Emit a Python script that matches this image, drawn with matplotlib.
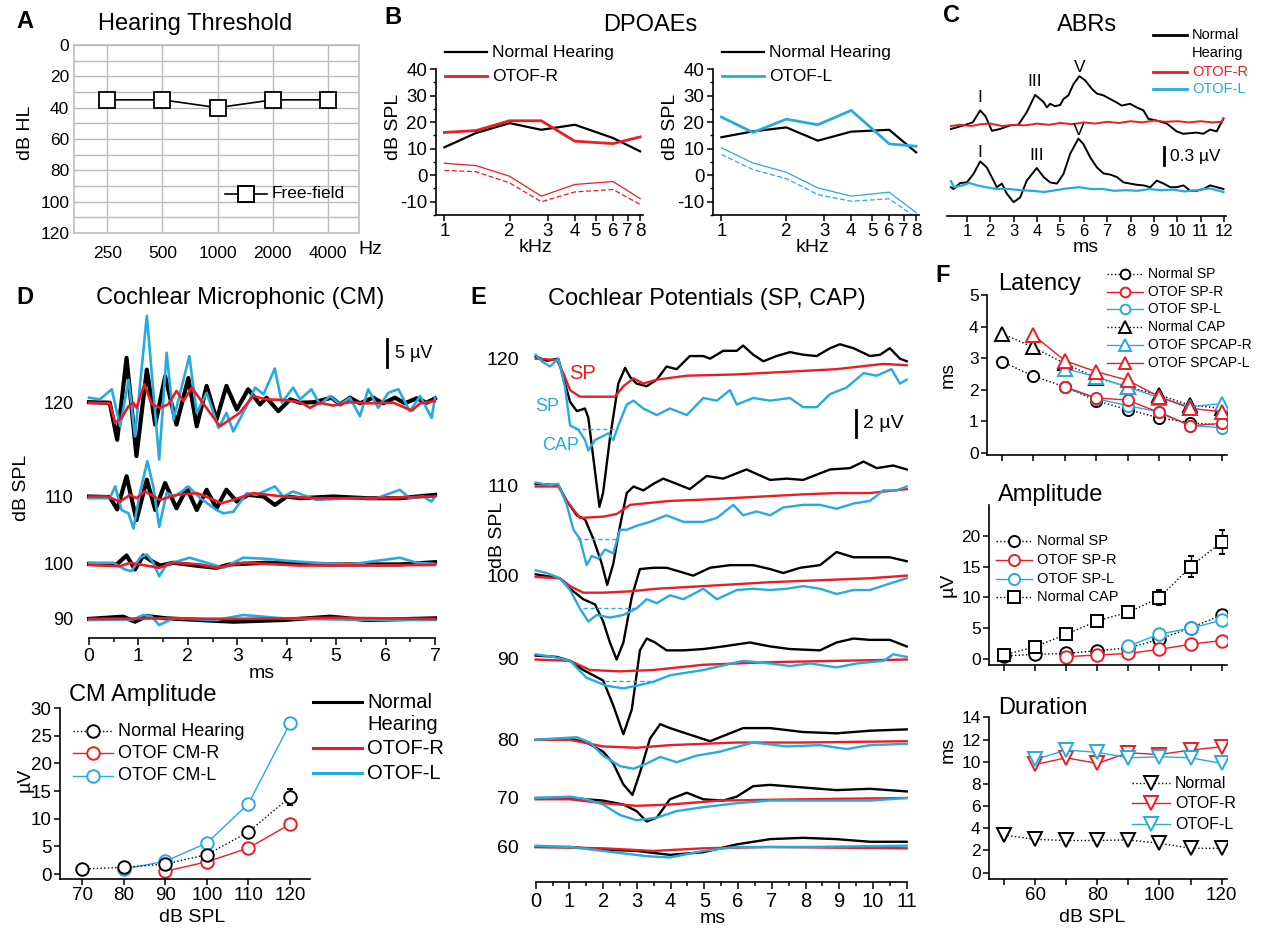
import matplotlib
matplotlib.use('Agg')
import matplotlib.pyplot as plt
from matplotlib.lines import Line2D

plt.rcParams['font.family'] = ['Liberation Sans', 'DejaVu Sans']
plt.rcParams['axes.linewidth'] = 1.2
plt.rcParams['axes.unicode_minus'] = False
plt.rcParams['lines.solid_joinstyle'] = 'round'

W, H = 1263, 930
RED = '#ec1c24'
BLUE = '#27aae1'

# ---------------- A: hearing threshold ----------------
freq_labels = ['250', '500', '1000', '2000', '4000']
threshold_db = [35, 35, 40, 35, 35]

# ---------------- B: DPOAEs ----------------
dp_khz = [1, 1.4, 2, 2.8, 4, 6, 8]
dp_normal_r = [10.5, 15.9, 19.6, 17.1, 19.0, 14.0, 9.0]
dp_otof_r = [16.1, 16.8, 20.5, 20.5, 12.8, 11.9, 14.4]
dp_otof_r_nf = [4.5, 3.6, -0.4, -7.9, -3.5, -2.4, -8.8]
dp_otof_r_nf_mean = [1.8, 1.3, -2.9, -10.0, -6.3, -5.4, -11.0]
dp_normal_l = [14.3, 16.5, 18.0, 13.0, 16.4, 17.1, 8.6]
dp_otof_l = [21.9, 16.1, 21.1, 19.0, 24.4, 11.8, 10.9]
dp_otof_l_nf = [10.3, 4.6, 1.1, -4.8, -7.9, -6.4, -14.1]
dp_otof_l_nf_mean = [7.8, 2.1, -1.3, -7.3, -9.8, -8.9, -16.0]

# ---------------- C: ABRs (ms, uV relative to trace baseline) ----------------
abr_normal_top = [(0.32, -0.03), (0.86, 0.03), (1.25, 0.08), (1.57, 0.28), (1.8, 0.18), (2.07, -0.06),
                  (2.42, -0.03), (2.85, 0.03), (3.2, 0.04), (3.56, 0.25), (3.92, 0.54), (4.28, 0.42),
                  (4.42, 0.33), (4.56, 0.39), (4.77, 0.35), (4.99, 0.37), (5.13, 0.47), (5.34, 0.53),
                  (5.56, 0.72), (5.81, 0.85), (6.06, 0.78), (6.34, 0.64), (6.56, 0.56), (6.84, 0.53),
                  (7.13, 0.47), (7.41, 0.41), (7.62, 0.36), (7.98, 0.39), (8.26, 0.33), (8.55, 0.28),
                  (8.76, 0.14), (9.12, 0.11), (9.55, 0.06), (9.97, -0.07), (10.25, -0.11), (10.82, -0.09),
                  (11.11, -0.11), (11.4, -0.04), (11.68, -0.07), (11.97, 0.14)]
abr_otof_r = [(0.32, 0.02), (0.7, 0.04), (1.2, 0.02), (1.6, 0.05), (2.0, 0.06), (2.5, 0.02), (3.0, 0.04),
              (3.5, 0.03), (4.0, 0.06), (4.5, 0.04), (5.0, 0.07), (5.5, 0.05), (6.0, 0.08), (6.5, 0.06),
              (7.0, 0.09), (7.5, 0.07), (8.0, 0.1), (8.5, 0.08), (9.0, 0.11), (9.5, 0.09), (10.0, 0.1),
              (10.5, 0.08), (11.0, 0.1), (11.5, 0.08), (11.9, 0.09), (11.97, 0.15)]
abr_normal_bot = [(0.32, 0.0), (0.43, -0.03), (0.71, 0.07), (1.0, 0.08), (1.28, 0.22), (1.57, 0.43),
                  (1.85, 0.33), (2.14, 0.11), (2.28, 0.0), (2.5, 0.06), (2.71, -0.11), (3.0, -0.25),
                  (3.28, -0.17), (3.56, 0.11), (3.99, 0.32), (4.28, 0.17), (4.56, 0.08), (4.85, 0.06),
                  (5.13, 0.22), (5.42, 0.56), (5.77, 0.81), (5.98, 0.72), (6.27, 0.5), (6.56, 0.33),
                  (6.84, 0.23), (7.13, 0.21), (7.41, 0.17), (7.7, 0.08), (7.98, 0.06), (8.27, 0.04),
                  (8.55, 0.03), (8.84, 0.0), (9.12, 0.11), (9.41, 0.06), (9.7, 0.0), (9.98, 0.0),
                  (10.26, 0.03), (10.55, -0.06), (10.83, -0.06), (11.12, -0.03), (11.4, 0.03),
                  (11.69, 0.0), (11.97, -0.03)]
abr_otof_l = [(0.32, 0.1), (0.45, 0.0), (0.8, 0.03), (1.1, 0.07), (1.45, 0.03), (1.8, 0.0), (2.3, -0.03),
              (2.8, -0.03), (3.3, -0.05), (3.8, -0.06), (4.3, -0.08), (4.8, -0.05), (5.3, -0.02),
              (5.8, 0.0), (6.3, -0.03), (6.8, -0.03), (7.3, -0.06), (7.8, -0.05), (8.3, -0.06),
              (8.8, -0.03), (9.3, -0.05), (9.8, -0.04), (10.3, -0.07), (10.8, -0.05), (11.4, -0.02),
              (11.97, -0.08)]

# ---------------- D: cochlear microphonic (ms, uV) ----------------
cm_levels = ['90', '100', '110', '120']
cm_offsets = [0.0, 9.8, 21.8, 38.6]
cm120_normal = [(0, 0), (0.42, -0.1), (0.57, -6.7), (0.76, 7.9), (0.96, -9.6), (1.17, 5.8), (1.34, -4.0),
                (1.54, 4.6), (1.77, -4.0), (2.01, 4.3), (2.18, -4.3), (2.38, 2.9), (2.58, -3.1), (2.78, 2.9),
                (2.99, -1.3), (3.22, 2.3), (3.46, -0.4), (3.59, 0.8), (3.83, -1.6), (4.07, 0.5), (4.27, -0.1),
                (4.55, 0.0), (4.91, 0.8), (5.08, -0.4), (5.28, 0.8), (5.48, -0.2), (5.75, 0.8), (5.95, -0.2),
                (6.19, 0.8), (6.39, -0.2), (6.63, 0.7), (6.83, -0.1), (7.0, 0.7)]
cm120_otof_l = [(0, 0.8), (0.22, 0.5), (0.46, 2.3), (0.63, -4.3), (0.8, 4.0), (0.93, -6.1), (1.17, 15.4),
                (1.42, -10.2), (1.57, 8.8), (1.71, -3.1), (2.03, 8.2), (2.18, -1.9), (2.38, 1.7), (2.62, -4.6),
                (2.78, -1.9), (2.92, -5.2), (3.19, -0.7), (3.36, 2.6), (3.53, 1.4), (3.76, 6.0), (3.9, -0.1),
                (4.13, 2.6), (4.27, 0.5), (4.5, 2.3), (4.67, -0.4), (4.88, 1.1), (5.08, -0.4), (5.28, 0.8),
                (5.48, -2.5), (5.65, 2.3), (5.85, -1.0), (6.06, 1.7), (6.26, 2.3), (6.49, -1.6), (6.7, 1.1),
                (6.93, -2.8), (7.0, 0.8)]
cm120_otof_r = [(0, -0.1), (0.42, -0.2), (0.53, -3.7), (0.66, -2.8), (0.8, -0.7), (0.9, -0.1), (0.96, -1.0),
                (1.12, 3.2), (1.27, -0.4), (1.44, -1.0), (1.6, -0.4), (1.77, 2.0), (1.91, 0.2), (2.08, 2.6),
                (2.25, 0.5), (2.45, -1.9), (2.65, -4.3), (2.85, -3.1), (3.05, -1.9), (3.32, 1.1), (3.59, 0.5),
                (3.93, 0.4), (4.27, 0.0), (4.47, -1.0), (4.67, -0.1), (4.94, -0.6), (5.28, 0.0), (5.62, -0.2),
                (6.16, -0.1), (6.53, -1.5), (6.7, -0.2), (7.0, 0.2)]
cm110_normal = [(0, 0), (0.42, -0.1), (0.57, -2.3), (0.76, 3.6), (0.96, -4.2), (1.17, 3.0), (1.34, -2.4),
                (1.54, 2.4), (1.77, -2.1), (1.98, 1.5), (2.18, -2.4), (2.38, 1.2), (2.58, -2.1), (2.78, 1.2),
                (2.99, -0.9), (3.22, 0.3), (3.53, 0.0), (3.76, -1.5), (4.0, 0.0), (4.27, -0.3), (4.94, 0.0),
                (5.62, -0.3), (6.29, -0.3), (7.0, 0.3)]
cm110_otof_l = [(0, -0.3), (0.42, -0.3), (0.53, 1.8), (0.66, -2.4), (0.8, -3.0), (0.9, -5.7), (1.03, 0.6),
                (1.18, 6.3), (1.3, 1.8), (1.42, -5.4), (1.57, 0.6), (1.74, 0.0), (2.01, 1.8), (2.25, -0.3),
                (2.58, -2.4), (2.72, -3.0), (2.92, -2.7), (3.19, 0.6), (3.39, 0.3), (3.76, 1.8), (3.93, 0.0),
                (4.13, 0.9), (4.6, -0.6), (5.28, -0.3), (5.82, -0.3), (6.29, 1.2), (6.49, -0.3), (6.76, 0.0),
                (6.93, -0.9), (7.0, 0.0)]
cm110_otof_r = [(0, 0), (0.36, 0.0), (0.63, -0.9), (0.83, 0.3), (0.96, -0.3), (1.13, 0.9), (1.44, -0.6),
                (1.77, 0.3), (2.18, 0.6), (2.45, -0.3), (2.68, -1.2), (2.92, -0.6), (3.32, 0.6), (3.93, 0.0),
                (4.6, -0.3), (5.62, -0.3), (7.0, 0.0)]
cm100_normal = [(0, 0), (0.56, -0.1), (0.76, 1.5), (0.93, -1.0), (1.1, 1.5), (1.27, 0.5), (1.44, -0.3),
                (1.71, 0.2), (2.25, -0.4), (2.58, -0.7), (2.85, -0.1), (3.59, 0.2), (4.94, -0.1), (6.29, -0.1),
                (7.0, 0.3)]
cm100_otof_l = [(0, 0.2), (0.49, 0.2), (0.73, -1.0), (0.86, -1.3), (1.03, 1.1), (1.17, 1.7), (1.3, 0.2),
                (1.42, -2.2), (1.57, -0.1), (2.04, 1.1), (2.38, 0.2), (2.72, -0.7), (3.12, 1.1), (3.59, 0.9),
                (4.07, 0.5), (4.6, 0.2), (5.28, -0.1), (6.29, 1.1), (6.63, 0.2), (7.0, 0.0)]
cm100_otof_r = [(0, -0.2), (0.63, -0.4), (0.83, 0.2), (1.03, -0.1), (1.42, -0.7), (1.71, 0.2), (2.25, -0.1),
                (2.58, -0.7), (3.12, 0.2), (4.27, -0.3), (7.0, -0.2)]
cm90_normal = [(0, 0), (0.69, 0.4), (0.93, -0.5), (1.17, 0.5), (1.57, 0.1), (2.92, -0.5), (3.93, -0.2),
               (4.88, 0.4), (5.62, -0.2), (7.0, 0.1)]
cm90_otof_l = [(0, -0.2), (0.9, -0.1), (1.1, 0.7), (1.27, 0.4), (1.42, -1.1), (1.71, 0.1), (2.58, -0.2),
               (3.12, 0.7), (3.93, 0.1), (4.94, -0.1), (7.0, -0.2)]
cm90_otof_r = [(0, 0), (1.57, 0.1), (2.92, 0.0), (4.94, 0.2), (7.0, 0.0)]

# CM amplitude
cm_spl = [70, 80, 90, 100, 110, 120]
cm_amp_normal = [0.9, 1.2, 1.8, 3.5, 7.6, 13.9]
cm_amp_normal_err = [0.3, 0.4, 0.4, 0.5, 0.7, 1.5]
cm_spl_r = [90, 100, 110, 120]
cm_amp_r = [0.5, 2.2, 4.7, 9.0]
cm_spl_l = [80, 90, 100, 110, 120]
cm_amp_l = [0.9, 2.3, 5.6, 12.7, 27.2]

# ---------------- E: SP / CAP (ms, uV) ----------------
cp_levels = ['60', '70', '80', '90', '100', '110', '120']
cp_offsets = [0.0, 3.74, 8.17, 14.4, 20.7, 27.6, 37.25]
cp120_normal = [(0, 0.16), (0.33, -0.16), (0.67, 0.0), (0.87, -1.9), (1.02, -3.3), (1.22, -4.0), (1.46, -3.8),
                (1.56, -4.5), (1.71, -7.6), (1.89, -11.3), (2.0, -10.2), (2.2, -6.1), (2.45, -1.9), (2.65, -0.7),
                (2.8, -1.4), (2.99, -1.9), (3.29, -2.1), (3.59, -1.6), (3.88, -0.6), (4.18, -0.8), (4.57, 0.2),
                (4.97, 0.2), (5.17, 0.0), (5.56, 0.6), (5.96, 0.6), (6.15, 1.0), (6.45, 0.3), (6.75, -0.2),
                (7.14, 0.2), (7.54, 0.5), (7.93, 0.3), (8.33, 0.2), (8.73, 0.8), (9.02, 1.1), (9.42, 0.8),
                (9.91, 0.2), (10.21, 0.3), (10.5, 0.8), (10.8, 0.0), (11.0, -0.2)]
cp120_otof_r = [(0, 0.0), (0.62, -0.1), (0.82, -1.1), (1.02, -2.4), (1.31, -2.9), (2.0, -2.9), (2.35, -2.9),
                (2.6, -2.1), (2.9, -1.5), (3.19, -1.9), (3.59, -1.6), (4.48, -1.3), (5.96, -1.2), (7.44, -1.0),
                (8.92, -0.8), (10.3, -0.4), (11.0, -0.5)]
cp120_otof_l = [(0, 0.3), (0.18, -0.2), (0.42, -0.6), (0.67, 0.0), (0.87, -2.2), (1.02, -5.1), (1.26, -5.4),
                (1.46, -6.2), (1.56, -7.0), (1.76, -6.2), (2.0, -5.9), (2.15, -5.7), (2.3, -6.2), (2.45, -5.1),
                (2.7, -3.5), (2.9, -3.2), (3.19, -3.8), (3.59, -4.3), (3.98, -3.8), (4.48, -4.3), (4.97, -3.0),
                (5.37, -3.2), (5.76, -2.4), (5.96, -3.5), (6.45, -3.0), (6.95, -3.2), (7.54, -3.0), (7.93, -3.7),
                (8.33, -3.7), (8.73, -2.7), (9.22, -2.2), (9.72, -1.1), (10.11, -1.3), (10.55, -0.8),
                (10.8, -1.9), (11.0, -1.6)]
cp110_normal = [(0, 0.1), (0.67, 0.0), (0.92, -1.2), (1.22, -2.3), (1.46, -2.6), (1.71, -4.1), (1.96, -6.0),
                (2.12, -7.6), (2.3, -6.0), (2.5, -3.1), (2.7, -0.6), (2.9, -0.1), (3.19, -0.4), (3.49, 0.1),
                (3.78, 0.5), (4.18, 0.1), (4.57, -0.3), (5.07, 0.7), (5.56, 0.5), (6.25, 1.2), (6.95, 0.4),
                (7.44, 0.5), (7.93, 0.4), (8.73, 1.2), (9.32, 1.3), (9.72, 1.8), (10.11, 1.3), (10.6, 1.5),
                (11.0, 1.2)]
cp110_otof_r = [(0, -0.1), (0.67, -0.1), (0.92, -1.2), (1.31, -2.5), (2.0, -2.4), (2.4, -2.2), (2.8, -1.5),
                (3.19, -1.4), (3.98, -1.2), (4.97, -1.1), (6.45, -0.9), (7.93, -0.7), (8.92, -0.6), (9.91, -0.6),
                (11.0, -0.3)]
cp110_otof_l = [(0, 0.2), (0.42, 0.0), (0.67, 0.1), (0.92, -1.5), (1.12, -3.4), (1.31, -4.1), (1.51, -6.1),
                (1.66, -5.4), (1.86, -5.6), (2.06, -4.9), (2.3, -5.2), (2.5, -3.4), (2.7, -3.4), (2.99, -3.1),
                (3.39, -2.8), (3.88, -2.3), (4.38, -2.8), (4.97, -2.8), (5.37, -2.5), (5.86, -1.5), (6.15, -2.3),
                (6.55, -2.0), (6.95, -2.3), (7.34, -1.7), (7.93, -1.5), (8.43, -1.5), (8.92, -1.8), (9.42, -1.4),
                (9.91, -1.2), (10.31, -0.4), (10.7, -0.4), (11.0, -0.1)]
cp100_normal = [(0, 0.1), (0.72, -0.2), (1.02, -1.0), (1.41, -1.8), (1.76, -2.2), (2.0, -3.5), (2.2, -5.1),
                (2.4, -6.4), (2.6, -5.1), (2.85, -1.6), (3.09, 0.5), (3.49, 0.6), (3.88, 0.6), (4.28, 0.3),
                (4.67, 0.0), (5.17, 0.6), (5.76, 0.8), (6.45, 0.8), (6.95, 0.5), (7.34, 0.2), (7.84, 0.6),
                (8.43, 0.8), (8.92, 1.8), (9.42, 1.4), (9.91, 1.4), (10.5, 1.4), (11.0, 1.1)]
cp100_otof_r = [(0, -0.1), (0.72, -0.2), (1.02, -0.8), (1.41, -1.3), (2.0, -1.3), (2.8, -1.2), (3.59, -1.0),
                (4.97, -0.8), (6.95, -0.5), (8.92, -0.3), (9.91, -0.2), (11.0, 0.0)]
cp100_otof_l = [(0, 0.4), (0.33, 0.2), (0.72, -0.2), (1.02, -1.1), (1.31, -2.5), (1.56, -3.5), (1.81, -3.0),
                (2.2, -3.2), (2.6, -3.0), (2.99, -2.5), (3.29, -1.8), (3.59, -2.1), (3.98, -1.5), (4.38, -1.8),
                (4.97, -1.0), (5.37, -1.8), (5.96, -1.1), (6.45, -1.0), (6.95, -1.1), (7.44, -1.0), (7.93, -0.8),
                (8.43, -1.0), (8.92, -1.4), (9.42, -1.1), (9.91, -1.1), (10.5, -0.6), (11.0, -0.2)]
cp90_normal = [(0, 0.2), (0.62, 0.1), (1.02, -0.2), (1.41, -0.9), (2.0, -1.7), (2.3, -3.6), (2.6, -5.8),
               (2.85, -3.9), (3.09, 0.6), (3.29, 1.5), (3.54, 1.2), (3.88, 0.6), (4.38, 0.6), (4.97, 0.7),
               (5.56, 0.9), (6.35, 1.2), (6.95, 0.9), (7.54, 0.7), (8.43, 0.6), (8.92, 1.2), (9.42, 1.5),
               (9.91, 1.4), (10.5, 1.4), (11.0, 0.9)]
cp90_otof_r = [(0, -0.1), (1.02, -0.2), (1.61, -0.9), (2.5, -1.0), (3.49, -0.9), (4.97, -0.5), (6.95, -0.3),
               (8.92, -0.2), (11.0, -0.1)]
cp90_otof_l = [(0, 0.3), (0.52, 0.1), (1.02, -0.2), (1.51, -1.5), (1.81, -1.8), (2.1, -2.1), (2.6, -2.3),
               (2.99, -2.1), (3.49, -1.8), (3.98, -1.3), (4.97, -0.9), (6.15, -0.2), (6.95, -0.4), (7.54, -0.6),
               (8.13, -0.4), (8.92, -0.7), (9.52, -0.4), (10.31, -0.2), (10.6, 0.3), (11.0, 0.1)]
cp80_normal = [(0, 0.0), (1.02, 0.1), (1.51, -0.2), (2.0, -0.9), (2.3, -1.8), (2.6, -3.4), (2.87, -4.2),
               (3.09, -2.5), (3.39, 0.1), (3.69, 1.2), (3.98, 0.9), (4.57, 0.4), (5.17, -0.1), (5.66, 0.4),
               (6.15, 0.9), (6.95, 0.9), (7.93, 0.6), (8.92, 0.5), (9.91, 0.7), (11.0, 0.8)]
cp80_otof_r = [(0, 0.0), (1.02, 0.0), (2.0, -0.5), (2.99, -0.6), (3.98, -0.4), (5.96, -0.2), (7.93, -0.2),
               (11.0, -0.1)]
cp80_otof_l = [(0, 0.0), (0.52, 0.1), (1.22, 0.2), (1.61, -0.2), (2.0, -1.2), (2.5, -2.0), (2.9, -2.2),
               (3.29, -1.8), (3.69, -1.3), (4.18, -1.7), (4.77, -1.2), (5.46, -0.9), (6.45, -0.2), (7.44, -0.5),
               (8.43, -0.4), (9.22, -0.7), (9.91, -0.4), (11.0, -0.3)]
cp70_normal = [(0, 0.0), (1.02, 0.0), (2.0, -0.2), (2.6, -0.5), (2.99, -1.0), (3.29, -1.8), (3.59, -1.5),
               (3.98, -0.1), (4.48, 0.4), (4.97, -0.1), (5.56, -0.2), (5.96, 0.1), (6.45, 0.9), (6.95, 1.0),
               (7.93, 0.8), (8.92, 0.6), (9.91, 0.7), (11.0, 0.5)]
cp70_otof_r = [(0, -0.1), (1.02, -0.1), (2.0, -0.4), (2.99, -0.6), (3.98, -0.5), (5.46, -0.2), (7.93, -0.1),
               (11.0, 0.0)]
cp70_otof_l = [(0, 0.0), (1.02, 0.1), (1.51, -0.1), (2.0, -0.5), (2.5, -1.3), (2.99, -1.7), (3.59, -1.5),
               (4.18, -1.0), (4.97, -0.7), (5.96, -0.4), (6.95, -0.2), (7.93, -0.2), (8.92, -0.2), (9.91, -0.2),
               (11.0, 0.0)]
cp60_normal = [(0, 0.0), (1.02, 0.0), (2.0, -0.2), (2.99, -0.3), (3.98, -0.6), (4.97, -0.4), (5.96, 0.2),
               (6.95, 0.6), (7.93, 0.7), (8.92, 0.6), (9.91, 0.4), (11.0, 0.4)]
cp60_otof_r = [(0, 0.0), (2.0, -0.1), (3.49, -0.3), (4.97, -0.1), (6.95, 0.0), (11.0, -0.1)]
cp60_otof_l = [(0, 0.1), (1.02, 0.0), (2.0, -0.3), (3.29, -0.7), (3.98, -0.8), (4.97, -0.3), (5.96, 0.0),
               (7.93, 0.0), (11.0, 0.1)]
# dashed SP/CAP separation marks on OTOF-L traces: level index, start ms, end ms, uV
cap_marks = [(6, 1.17, 2.4, -5.35), (5, 1.22, 2.45, -4.1), (4, 1.41, 2.94, -2.5), (3, 2.06, 3.54, -1.75)]

# ---------------- F: SP/CAP summary ----------------
f_spl = [50, 60, 70, 80, 90, 100, 110, 120]
lat_sp_normal = [2.89, 2.43, 2.09, 1.65, 1.37, 1.11, 0.95, 0.88]
lat_sp_r = [2.09, 1.74, 1.67, 1.28, 0.86, 0.93]
lat_sp_l = [2.07, 1.72, 1.49, 1.30, 0.86, 0.80]
lat_cap_normal = [3.78, 3.34, 2.83, 2.38, 2.09, 1.83, 1.51, 1.41]
lat_spcap_r = [2.67, 2.41, 2.09, 1.75, 1.46, 1.56]
lat_spcap_l = [3.73, 2.92, 2.57, 2.30, 1.78, 1.41, 1.30]

amp_sp_normal = [0.5, 0.76, 0.9, 1.35, 1.8, 3.2, 5.1, 7.1]
amp_sp_r = [0.38, 0.65, 0.9, 1.57, 2.4, 3.0]
amp_sp_l = [2.1, 4.05, 5.0, 6.3]
amp_cap_normal = [0.65, 2.0, 4.0, 6.2, 7.6, 9.95, 15.0, 19.0]
amp_cap_err = [0.2, 0.3, 0.4, 0.8, 0.9, 1.2, 1.7, 2.0]

dur_normal = [3.4, 3.0, 2.9, 2.9, 2.95, 2.65, 2.2, 2.2]
dur_r = [9.75, 10.35, 9.85, 10.8, 10.65, 11.05, 11.35]
dur_l = [10.2, 11.05, 10.85, 10.35, 10.45, 10.35, 9.85]


fig = plt.figure(figsize=(W / 100, H / 100), dpi=100)


def px_axes(l, t, r, b):
    return fig.add_axes([l / W, 1 - b / H, (r - l) / W, (b - t) / H])


def ftext(x, y, s, **kw):
    kw.setdefault('va', 'center')
    kw.setdefault('ha', 'center')
    fig.text(x / W, 1 - y / H, s, **kw)


def key(x0, x1, y, label, color='k', ls='-', lw=1.2, marker=None, ms=8, fs=12, tcolor='k'):
    fig.add_artist(Line2D([x0 / W, x1 / W], [1 - y / H] * 2, color=color, ls=ls, lw=lw))
    if marker:
        fig.add_artist(Line2D([(x0 + x1) / 2 / W], [1 - y / H], marker=marker, ms=ms, mfc='white',
                              mec=color, mew=1.4, ls='none'))
    ftext(x1 + 5, y, label, ha='left', fontsize=fs, color=tcolor)


def tr(points, off=0.0):
    return [p[0] for p in points], [p[1] + off for p in points]


def only_bottom(ax):
    for s in ['top', 'right', 'left']:
        ax.spines[s].set_visible(False)


# ======== A ========
ax = px_axes(74, 45, 359, 233)
ax.set_xlim(-0.6, 4.56)
ax.set_ylim(120, 0)
for v in range(0, 121, 10):
    ax.axhline(v, color='#bcbcbc', lw=1, zorder=0)
for i in range(5):
    ax.axvline(i, color='#bcbcbc', lw=1, zorder=0)
for s in ax.spines.values():
    s.set_color('#bcbcbc')
ax.plot(range(5), threshold_db, color='k', lw=1.2, marker='s', ms=11, mfc='white', mec='k', mew=1.3)
ax.set_yticks(range(0, 121, 20))
ax.set_xticks(range(5), freq_labels)
ax.tick_params(length=0, labelsize=12.5)
ax.tick_params(axis='x', pad=9)
ftext(25, 133, 'dB HL', rotation=90, fontsize=14)
ftext(370, 250, 'Hz', fontsize=14)
key(225, 267, 194, 'Free-field', fs=12.5, marker='s', ms=11)
ftext(195, 24, 'Hearing Threshold', fontsize=17)
ftext(25, 22, 'A', fontsize=17, weight='bold')

# ======== B ========
ftext(393, 18, 'B', fontsize=17, weight='bold')
ftext(650, 25, 'DPOAEs', fontsize=17)
for l, r, normal, otof, nf, nfm, col, name in [
        (435.7, 643, dp_normal_r, dp_otof_r, dp_otof_r_nf, dp_otof_r_nf_mean, RED, 'OTOF-R'),
        (712.8, 919, dp_normal_l, dp_otof_l, dp_otof_l_nf, dp_otof_l_nf_mean, BLUE, 'OTOF-L')]:
    ax = px_axes(l, 69, r, 215)
    ax.set_xscale('log')
    ax.set_xlim(0.912, 8.25)
    ax.set_ylim(-14.75, 40)
    ax.plot(dp_khz, normal, color='k', lw=1.6)
    ax.plot(dp_khz, otof, color=col, lw=2)
    ax.plot(dp_khz, nf, color=col, lw=0.9)
    ax.plot(dp_khz, nfm, color=col, lw=0.9, ls=(0, (4, 2)))
    ax.spines['top'].set_visible(False)
    ax.spines['right'].set_visible(False)
    ax.set_xticks(range(1, 9), [str(k) for k in range(1, 9)])
    ax.minorticks_off()
    ax.set_yticks(range(-10, 41, 10))
    ax.set_yticks(range(-15, 40, 10), minor=True)
    ax.tick_params(labelsize=13.5, length=4, width=1.1, pad=2)
    ax.tick_params(axis='y', which='minor', length=2, width=1)
    ftext(l - 42.5, 127, 'dB SPL', rotation=90, fontsize=14)
    ftext(l + 100, 248, 'kHz', fontsize=14)
    key(l + 9, l + 51, 52, 'Normal Hearing', lw=1.6, fs=12.5)
    key(l + 9, l + 51, 76, name, color=col, lw=2, fs=12.5)

# ======== C ========
ftext(952, 16, 'C', fontsize=17, weight='bold')
ftext(1087, 25, 'ABRs', fontsize=17)
ax = px_axes(947, 60, 1226, 216)
ax.set_xlim(0.15, 12.08)
ax.set_ylim(-0.48, 2.12)
only_bottom(ax)
ax.set_yticks([])
ax.plot(*tr(abr_normal_top, 1.0), color='k', lw=1.4)
ax.plot(*tr(abr_otof_r, 1.0), color=RED, lw=1.4)
ax.plot(*tr(abr_normal_bot), color='k', lw=1.4)
ax.plot(*tr(abr_otof_l), color=BLUE, lw=1.6)
ax.set_xticks(range(1, 13))
ax.tick_params(labelsize=12, length=4, width=1.1, pad=2)
for x, y, s in [(1.57, 1.5, 'I'), (3.92, 1.77, 'III'), (5.81, 1.99, 'V'),
                (1.57, 0.58, 'I'), (4.0, 0.53, 'III'), (5.77, 0.95, 'V')]:
    ax.text(x, y, s, ha='center', va='center', fontsize=12.5)
ax.plot([9.42, 9.42], [0.37, 0.67], color='k', lw=2)
ax.text(9.7, 0.52, '0.3 µV', va='center', ha='left', fontsize=12.5)
ftext(1086, 247, 'ms', fontsize=14)
key(1153, 1187, 35, 'Normal', lw=2, fs=10.5)
ftext(1192, 53, 'Hearing', ha='left', fontsize=10.5)
key(1153, 1187, 72, 'OTOF-R', color=RED, lw=2, fs=10.5, tcolor=RED)
key(1153, 1187, 89, 'OTOF-L', color=BLUE, lw=2, fs=10.5, tcolor=BLUE)

# ======== D ========
ftext(25, 298, 'D', fontsize=17, weight='bold')
ftext(240, 298, 'Cochlear Microphonic (CM)', fontsize=17)
ax = px_axes(89, 300, 435, 638)
ax.set_xlim(0, 7)
ax.set_ylim(-3.4, 56.8)
only_bottom(ax)
for (nrm, lft, rgt), off in zip([(cm90_normal, cm90_otof_l, cm90_otof_r),
                                  (cm100_normal, cm100_otof_l, cm100_otof_r),
                                  (cm110_normal, cm110_otof_l, cm110_otof_r),
                                  (cm120_normal, cm120_otof_l, cm120_otof_r)], cm_offsets):
    ax.plot(*tr(nrm, off), color='k', lw=3, clip_on=False)
    ax.plot(*tr(lft, off), color=BLUE, lw=1.9, clip_on=False)
    ax.plot(*tr(rgt, off), color=RED, lw=1.9, clip_on=False)
ax.set_yticks(cm_offsets, cm_levels)
ax.tick_params(axis='y', length=0, labelsize=13, pad=11)
ax.set_xticks(range(0, 8))
ax.set_xticks([k + 0.5 for k in range(7)], minor=True)
ax.tick_params(axis='x', labelsize=14, length=5, width=1.1, pad=2)
ax.tick_params(axis='x', which='minor', length=3, width=1.1)
ax.plot([6.03, 6.03], [44.8, 49.8], color='k', lw=2, clip_on=False)
ax.text(6.2, 47.3, '5 µV', va='center', ha='left', fontsize=13)
ftext(22, 488, 'dB SPL', rotation=90, fontsize=14)
ftext(262, 673, 'ms', fontsize=14)

# CM amplitude
ax = px_axes(60, 708, 310, 879)
ax.set_xlim(64.7, 124.8)
ax.set_ylim(-0.9, 30)
ax.spines['top'].set_visible(False)
ax.spines['right'].set_visible(False)
ax.errorbar(cm_spl, cm_amp_normal, yerr=cm_amp_normal_err, color='k', lw=1, ls=':', marker='o', ms=9,
            mfc='white', mec='k', mew=1.4, capsize=2.5, elinewidth=1)
ax.plot(cm_spl_r, cm_amp_r, color=RED, lw=1, marker='o', ms=9, mfc='white', mec=RED, mew=1.4)
ax.plot(cm_spl_l, cm_amp_l, color=BLUE, lw=1, marker='o', ms=9, mfc='white', mec=BLUE, mew=1.4)
ax.set_xticks(cm_spl)
ax.set_yticks(range(0, 31, 5))
ax.tick_params(labelsize=13.5, length=4, width=1.1, pad=2)
ftext(25, 780, 'µV', rotation=90, fontsize=14)
ftext(192, 917, 'dB SPL', fontsize=14)
ftext(143, 695, 'CM Amplitude', fontsize=17)
key(73, 113, 731, 'Normal Hearing', ls=':', lw=1, marker='o', ms=9, fs=13)
key(73, 113, 753, 'OTOF CM-R', color=RED, lw=1, marker='o', ms=9, fs=13)
key(73, 113, 776, 'OTOF CM-L', color=BLUE, lw=1, marker='o', ms=9, fs=13)

# big legend for D and E
key(313, 362, 702, 'Normal', lw=2.2, fs=14.5)
ftext(367, 725, 'Hearing', ha='left', fontsize=14.5)
key(313, 362, 748, 'OTOF-R', color=RED, lw=2.2, fs=14.5)
key(313, 362, 773, 'OTOF-L', color=BLUE, lw=2.2, fs=14.5)

# ======== E ========
ftext(478, 298, 'E', fontsize=17, weight='bold')
ftext(707, 299, 'Cochlear Potentials (SP, CAP)', fontsize=17)
ax = px_axes(535.7, 320, 906.7, 882)
ax.set_xlim(0, 11)
ax.set_ylim(-2.67, 40.2)
only_bottom(ax)
cp_traces = [(cp60_normal, cp60_otof_r, cp60_otof_l), (cp70_normal, cp70_otof_r, cp70_otof_l),
             (cp80_normal, cp80_otof_r, cp80_otof_l), (cp90_normal, cp90_otof_r, cp90_otof_l),
             (cp100_normal, cp100_otof_r, cp100_otof_l), (cp110_normal, cp110_otof_r, cp110_otof_l),
             (cp120_normal, cp120_otof_r, cp120_otof_l)]
for (nrm, rgt, lft), off in zip(cp_traces, cp_offsets):
    ax.plot(*tr(nrm, off), color='k', lw=1.7, clip_on=False)
    ax.plot(*tr(rgt, off), color=RED, lw=1.7, clip_on=False)
    ax.plot(*tr(lft, off), color=BLUE, lw=1.7, clip_on=False)
for lev, t0, t1, v in cap_marks:
    ax.plot([t0, t1], [v + cp_offsets[lev]] * 2, color=BLUE, lw=1, ls=(0, (3, 2)))
ax.set_yticks(cp_offsets, cp_levels)
ax.tick_params(axis='y', length=0, labelsize=14, pad=12)
ax.set_xticks(range(0, 12))
ax.set_xticks([k + 0.5 for k in range(11)], minor=True)
ax.tick_params(axis='x', labelsize=14.5, length=5, width=1.1, pad=2)
ax.tick_params(axis='x', which='minor', length=3, width=1.1)
ax.text(1.4, 36.1, 'SP', color=RED, ha='center', va='center', fontsize=14.5)
ax.text(0.34, 33.6, 'SP', color=BLUE, ha='center', va='center', fontsize=13)
ax.text(0.75, 30.6, 'CAP', color=BLUE, ha='center', va='center', fontsize=13)
ax.plot([9.5, 9.5], [31.3, 33.3], color='k', lw=2)
ax.text(9.7, 32.3, '2 µV', va='center', ha='left', fontsize=14)
ftext(497, 535, 'dB SPL', rotation=90, fontsize=14)
ftext(713, 918, 'ms', fontsize=14)

# ======== F ========
ftext(943, 275, 'F', fontsize=17, weight='bold')
f_r = f_spl[2:]
f_l_amp = f_spl[4:]


def f_axes(t, b, l=987):
    a = px_axes(l, t, 1227, b)
    a.set_xlim(45.2, 121.7)
    a.spines['top'].set_visible(False)
    a.spines['right'].set_visible(False)
    a.set_xticks(f_spl)
    a.tick_params(labelsize=12.5, length=4, width=1.1, pad=2)
    return a


ax = f_axes(295, 455)
ax.set_ylim(-0.07, 5)
ax.set_yticks(range(0, 6))
ax.set_xticklabels([])
circ = dict(marker='o', ms=8, mfc='white', mew=1.4)
tri = dict(marker='^', ms=10, mfc='white', mew=1.4)
ax.plot(f_spl, lat_sp_normal, color='k', ls=':', lw=1, mec='k', **circ)
ax.plot(f_r, lat_sp_l, color=BLUE, lw=1, mec=BLUE, **circ)
ax.plot(f_r, lat_sp_r, color=RED, lw=1, mec=RED, **circ)
ax.plot(f_spl, lat_cap_normal, color='k', ls=':', lw=1, mec='k', **tri)
ax.plot(f_r, lat_spcap_r, color=BLUE, lw=1, mec=BLUE, **tri)
ax.plot(f_spl[1:], lat_spcap_l, color=RED, lw=1, mec=RED, **tri)
ftext(948, 375, 'ms', rotation=90, fontsize=14)
ftext(998, 284, 'Latency', ha='left', fontsize=17)
for y, lab, col, ls, mk in [(274, 'Normal SP', 'k', ':', 'o'), (292, 'OTOF SP-R', RED, '-', 'o'),
                            (309, 'OTOF SP-L', BLUE, '-', 'o'), (327, 'Normal CAP', 'k', ':', '^'),
                            (345, 'OTOF SPCAP-R', BLUE, '-', '^'), (363, 'OTOF SPCAP-L', RED, '-', '^')]:
    key(1107, 1143, y, lab, color=col, ls=ls, lw=1, marker=mk, ms=7 if mk == 'o' else 8, fs=10)

ax = f_axes(505, 665, l=989)
ax.set_ylim(-0.97, 25)
ax.set_yticks(range(0, 21, 5))
ax.set_xticklabels([])
circ = dict(marker='o', ms=9, mfc='white', mew=1.4)
ax.errorbar(f_spl, amp_cap_normal, yerr=amp_cap_err, color='k', ls=':', lw=1, marker='s', ms=9,
            mfc='white', mec='k', mew=1.4, capsize=2.5, elinewidth=1)
ax.plot(f_spl, amp_sp_normal, color='k', ls=':', lw=1, mec='k', **circ)
ax.plot(f_r, amp_sp_r, color=RED, lw=1, mec=RED, **circ)
ax.plot(f_l_amp, amp_sp_l, color=BLUE, lw=1, mec=BLUE, **circ)
ftext(948, 585, 'µV', rotation=90, fontsize=14)
ftext(998, 495, 'Amplitude', ha='left', fontsize=17)
for y, lab, col, ls, mk in [(541, 'Normal SP', 'k', ':', 'o'), (560, 'OTOF SP-R', RED, '-', 'o'),
                            (579, 'OTOF SP-L', BLUE, '-', 'o'), (597, 'Normal CAP', 'k', ':', 's')]:
    key(996, 1032, y, lab, color=col, ls=ls, lw=1, marker=mk, ms=8, fs=10.5)

ax = f_axes(717, 879, l=989)
ax.set_ylim(-0.57, 14.03)
ax.set_yticks(range(0, 15, 2))
ax.set_xticklabels(['' if k % 20 else str(k) for k in f_spl])
ax.tick_params(axis='x', labelsize=13.5)
dtri = dict(marker='v', ms=10, mfc='white', mew=1.4)
ax.plot(f_spl, dur_normal, color='k', ls=':', lw=1, mec='k', **dtri)
ax.plot(f_spl[1:], dur_r, color=RED, lw=1, mec=RED, **dtri)
ax.plot(f_spl[1:], dur_l, color=BLUE, lw=1, mec=BLUE, **dtri)
ftext(948, 750, 'ms', rotation=90, fontsize=14)
ftext(1092, 917, 'dB SPL', fontsize=14)
ftext(998, 708, 'Duration', ha='left', fontsize=17)
key(1132, 1170, 783, 'Normal', ls=':', lw=1, marker='v', ms=10, fs=11.5)
key(1132, 1170, 803, 'OTOF-R', color=RED, lw=1, marker='v', ms=10, fs=11.5)
key(1132, 1170, 824, 'OTOF-L', color=BLUE, lw=1, marker='v', ms=10, fs=11.5)

fig.savefig('out.png', dpi=100)
